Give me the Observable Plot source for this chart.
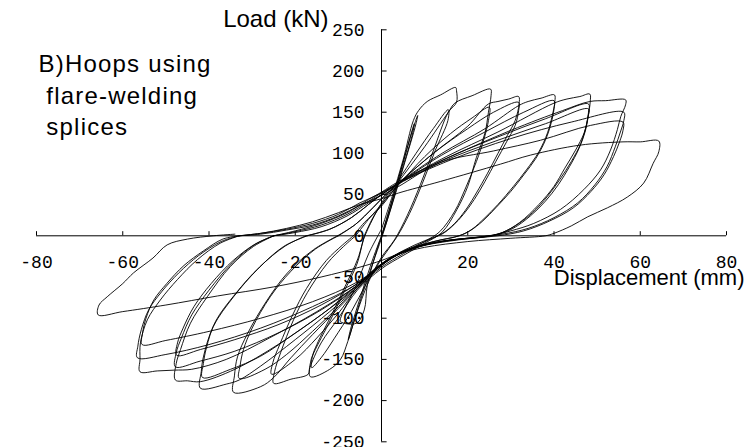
<!DOCTYPE html>
<html><head><meta charset="utf-8">
<script src="https://cdn.jsdelivr.net/npm/d3@7"></script>
<script src="https://cdn.jsdelivr.net/npm/@observablehq/plot@0.6"></script>
<style>body{margin:0;background:#fff}</style>
</head><body><div id="chart"></div>
<script>
// Axis ticks
const xTicks = [-80, -60, -40, -20, 0, 20, 40, 60, 80];
const xTickLabels = [-80, -60, -40, -20, 20, 40, 60, 80];
const yTicks = [-250, -200, -150, -100, -50, 0, 50, 100, 150, 200, 250];

// Hysteresis cycles: [displacement (mm), load (kN)]
const c01 = [[0,0],[2,35],[4.5,80],[7,125],[8.4,146],[8,136],[5,82],[2,30],[0,-3],[-2,-33],[-4.5,-72],[-6.5,-106],[-7.7,-126],[-7.2,-114],[-4.5,-68],[-2,-28],[0,0]];
const c02 = [[0,0],[3,52],[5.5,98],[7.6,136],[7.3,126],[4.2,70],[1,14],[-1,-16],[-3.3,-60],[-4,-90],[-5.8,-106],[-9.5,-104],[-9.2,-96],[-6,-62],[-3,-22],[0,8]];
const c03 = [[0,8],[2.5,48],[5,92],[7.4,140],[8.6,152],[10.6,163],[13.7,171],[17.2,180],[17.4,176],[17.4,162],[15.5,150],[12,103],[9,62],[6,25],[3,-5],[0,-26],[-3,-56],[-6,-98],[-7.8,-128],[-9.5,-150],[-12,-162],[-16.5,-171],[-16.4,-152],[-15.7,-142],[-11.8,-102],[-8.8,-69],[-5.6,-33],[-4.2,-5],[-3,10]];
const c04 = [[-3,10],[0,40],[3.7,66],[8,100],[12,130],[15.5,153],[15.4,140],[12.5,104],[9.5,64],[6.5,27],[3.5,-2],[0,-28],[-3.5,-58],[-7,-92],[-11,-125],[-14,-148],[-16.2,-160],[-16,-146],[-15,-132],[-11.5,-95],[-8.5,-62],[-5.5,-28],[-4,0]];
const c05 = [[-4,0],[-2,22],[0,38],[3.7,64],[10,108],[15.5,150],[17,161],[21,170],[25.3,178],[25.4,170],[24.8,150],[24,125],[22,95],[20,60],[17.5,32],[14,4],[10,-9],[5,-24],[0,-40],[-5.6,-66],[-10,-100],[-14,-130],[-16.6,-160],[-17,-168],[-21,-174],[-25,-179],[-24.8,-165],[-23.4,-142],[-20.4,-102],[-17.2,-69],[-12.5,-33],[-8.8,-13],[-6,0]];
const c06 = [[-6,0],[-3,20],[0,38],[4,62],[10,96],[16,124],[21,143],[25,156],[24.8,140],[23.8,118],[22,90],[19.5,58],[17,30],[13.5,5],[10,-7],[5,-22],[0,-38],[-5.6,-64],[-10,-94],[-15,-124],[-20,-150],[-25.5,-168],[-25.2,-154],[-23.6,-132],[-20.6,-96],[-17.4,-64],[-12.8,-30],[-9,-11],[-6.5,0]];
const c07 = [[-6.5,0],[-4,16],[0,36],[4,63],[12,100],[20,133],[24.8,160],[27,163],[29.5,166],[31.8,169],[31.9,160],[31,140],[29.2,122],[27,100],[24.6,76],[22,52],[20,35],[17.5,18],[15,6],[13,0],[8,-12],[3,-24],[-1,-40],[-5.6,-64],[-10,-88],[-16,-120],[-21,-148],[-25,-172],[-28,-183],[-34.3,-190],[-34.1,-170],[-33.4,-147],[-31,-118],[-26.5,-78],[-21.8,-45],[-15.8,-17],[-10.2,0]];
const c08 = [[-10.2,0],[-6,14],[-2,34],[1,50],[4,64],[12,100],[20,130],[26,150],[31.8,162],[31.8,152],[31,134],[29,114],[26.5,90],[24,66],[21.5,44],[19,26],[16.5,12],[14,2],[10,-6],[5,-18],[0,-34],[-5.6,-62],[-10,-86],[-16,-116],[-22,-144],[-27,-162],[-33,-173],[-32.8,-158],[-32,-138],[-30,-112],[-25.8,-74],[-21,-43],[-15.3,-16],[-10,0]];
const c09 = [[-10,0],[-6,14],[-2,34],[1,50],[4,64],[14,100],[24,130],[31.8,158],[34,163],[37,167],[40.1,171],[40.2,163],[39.6,146],[38.5,125],[36.5,102],[33.6,80],[30.6,60],[27,38],[24,22],[21,8],[18,0],[13,-6],[7,-15],[2,-28],[-2,-42],[-5.6,-62],[-12,-92],[-20,-126],[-28,-158],[-33,-175],[-36,-180],[-42,-185],[-41.8,-165],[-41.3,-147],[-39,-110],[-34.3,-74],[-28.8,-41],[-22.7,-13],[-17.2,0]];
const c10 = [[-17.2,0],[-12,8],[-7,22],[-3,38],[0,50],[4,64],[14,98],[24,126],[33,150],[40,164],[40,154],[39.3,136],[38,116],[35.8,94],[33,74],[30,54],[26.5,34],[23.5,18],[20.5,6],[18,0],[12,-7],[6,-17],[1,-32],[-5.6,-60],[-12,-88],[-20,-118],[-28,-146],[-35,-162],[-41.5,-172],[-41.3,-155],[-40.6,-136],[-38.5,-104],[-33.8,-70],[-28.3,-38],[-22.2,-12],[-17.5,0]];
const c11 = [[-17.5,0],[-12,8],[-7,22],[-3,38],[0,50],[4,64],[15,96],[27,126],[40,161],[43,166],[46,169],[48.3,172],[48.4,163],[47.9,145],[47,125],[45,104],[42.5,82],[40,60],[36.5,38],[32,16],[28,4],[24,-1],[18,-4],[12,-9],[6,-18],[1,-32],[-5.6,-62],[-14,-96],[-24,-132],[-34,-162],[-42,-177],[-45,-176],[-47.8,-175],[-47.6,-155],[-46.6,-138],[-44.3,-106],[-40.4,-74],[-35,-37],[-29.7,-13],[-25,0]];
const c12 = [[-25,0],[-20,5],[-14,13],[-8,26],[-3,42],[0,52],[4,64],[15,94],[27,120],[38,142],[48,160],[48,150],[47.4,132],[46.2,112],[44,90],[41.3,68],[38.5,48],[35,28],[31,12],[27,2],[22,-2],[16,-5],[10,-11],[4,-22],[0,-34],[-5.6,-60],[-14,-90],[-24,-118],[-34,-140],[-42,-152],[-47.8,-159],[-47.6,-142],[-46.4,-124],[-44,-96],[-40,-66],[-34.6,-33],[-29.5,-11],[-25,0]];
const c13 = [[-25,0],[-20,4],[-14,11],[-8,24],[-3,40],[0,50],[4,63],[15,92],[27,116],[38,136],[48,154],[47.9,144],[47.2,126],[45.8,106],[43.6,84],[41,62],[38,42],[34.5,24],[30.5,9],[26.5,1],[21,-3],[15,-6],[9,-12],[3,-24],[-5.6,-58],[-14,-84],[-24,-108],[-34,-126],[-42,-138],[-47.5,-145],[-47.3,-130],[-46,-112],[-43.5,-86],[-39.5,-58],[-34.4,-30],[-29.3,-10],[-25,0]];
const c14 = [[-25,0],[-20,6],[-14,15],[-8,28],[-3,44],[0,53],[4,66],[16,96],[30,128],[42,152],[48.3,163],[52,164],[56.6,165],[56.6,159],[55.5,145],[54.7,129],[53.1,104],[50.8,80],[46.9,56],[41.5,32],[35.3,15],[30,6],[26,1],[20,-3],[14,-7],[8,-14],[3,-25],[-1,-40],[-5.6,-60],[-15,-92],[-26,-124],[-36,-150],[-44,-162],[-48,-163],[-52,-164],[-56,-165],[-56,-150],[-55.9,-130],[-54.3,-102],[-51.3,-78],[-47.3,-53],[-42.7,-29],[-37.4,-9],[-33,0]];
const c15 = [[-33,0],[-28,3],[-22,8],[-16,15],[-10,26],[-5,40],[0,52],[4,64],[16,92],[30,118],[44,138],[56.2,150],[56.2,140],[55.4,126],[54.2,108],[52.3,84],[49.5,62],[45.5,40],[40,22],[34,9],[28,2],[22,-2],[16,-5],[10,-11],[4,-22],[0,-34],[-5.6,-58],[-16,-86],[-28,-112],[-40,-132],[-50,-144],[-56.6,-148],[-56.5,-134],[-55.7,-114],[-54,-90],[-51,-68],[-47,-45],[-42.4,-24],[-37.2,-7],[-33,0]];
const c16 = [[-33,0],[-28,2],[-22,7],[-16,13],[-10,24],[-5,37],[0,49],[4,60],[13.7,89],[26,103],[36.9,116],[48.5,134],[56,138],[56,128],[55.2,114],[53.8,96],[51.6,74],[48.6,54],[44.5,34],[39,18],[33,6],[27,0],[21,-3],[15,-7],[9,-13],[3,-25],[-5.6,-56],[-16,-80],[-28,-100],[-40,-116],[-50,-127],[-55.5,-132],[-55.4,-118],[-54.6,-100],[-52.8,-78],[-49.8,-58],[-45.8,-36],[-41.2,-18],[-36.8,-4],[-33,0]];
const c17 = [[-33,0],[-28,3],[-22,9],[-16,17],[-10,28],[-5,38],[0,45],[4,52],[13.7,66],[27.6,87],[34.6,98],[46,110],[56,114],[60,114],[64.3,115],[64.3,102],[63,88],[60.8,64],[57,47],[52.4,34],[47.8,23],[44,12],[40,3],[38,0],[30,-3],[20,-7],[10,-14],[4,-22],[0,-30],[-5,-38],[-14,-50],[-25,-62],[-38,-73],[-50,-84],[-60,-92],[-65.7,-96],[-65.5,-84],[-63.6,-74],[-60,-58],[-57.5,-45],[-53,-27],[-49.7,-11],[-45,-4],[-39,0],[-34,2]];

const cycles = [c01,c02,c03,c04,c05,c06,c07,c08,c09,c10,c11,c12,c13,c14,c15,c16,c17];
const rows = cycles.flatMap((c, k) => c.map(([d, p], i) => ({cycle: k, i, d, p})));

// Annotation texts
const yTitle = "Load (kN)";
const xTitle = "Displacement (mm)";
const noteLines = ["B)Hoops using", "\u00a0flare-welding", "\u00a0splices"];

const sans = "Liberation Sans, Arial, Helvetica, sans-serif";
const mono = "Liberation Mono, DejaVu Sans Mono, monospace";

const chart = Plot.plot({
  width: 750,
  height: 447,
  marginLeft: 36,
  marginRight: 24,
  marginTop: 29.3,
  marginBottom: 5.7,
  x: {domain: [-80, 80], axis: null},
  y: {domain: [-250, 250], axis: null},
  style: {background: "white", color: "black"},
  marks: [
    Plot.ruleY([0], {x1: -80, x2: 80, stroke: "black", strokeWidth: 1}),
    Plot.ruleX([0], {y1: -250, y2: 250, stroke: "black", strokeWidth: 1}),
    Plot.ruleX(xTicks, {x: d => d, y1: 0, y2: 5, stroke: "black", strokeWidth: 1}),
    Plot.ruleY(yTicks, {y: d => d, x1: 0, x2: 1.3, stroke: "black", strokeWidth: 1}),
    Plot.text(xTickLabels, {x: d => d, y: 0, text: d => String(d), dy: 26.4, fontFamily: mono, fontSize: 18, fill: "black"}),
    Plot.text(yTicks, {x: 0, y: d => d, text: d => String(d), textAnchor: "end", dx: -17, fontFamily: mono, fontSize: 18, fill: "black"}),
    Plot.line(rows, {x: "d", y: "p", z: "cycle", stroke: "#000", strokeWidth: 0.9, curve: "catmull-rom"}),
    Plot.text([yTitle], {frameAnchor: "top-left", dx: 292, dy: -2.6, textAnchor: "end", lineAnchor: "bottom", fontFamily: sans, fontSize: 24, fill: "black"}),
    Plot.text([noteLines[0]], {frameAnchor: "top-left", dx: 2, dy: 42.4, textAnchor: "start", lineAnchor: "bottom", fontFamily: sans, fontSize: 24, fill: "black"}),
    Plot.text([noteLines[1]], {frameAnchor: "top-left", dx: 2, dy: 73.7, textAnchor: "start", lineAnchor: "bottom", fontFamily: sans, fontSize: 24, fill: "black"}),
    Plot.text([noteLines[2]], {frameAnchor: "top-left", dx: 2, dy: 105.2, textAnchor: "start", lineAnchor: "bottom", fontFamily: sans, fontSize: 24, fill: "black"}),
    Plot.text([xTitle], {frameAnchor: "top-left", dx: 708, dy: 254.7, textAnchor: "end", lineAnchor: "bottom", fontFamily: sans, fontSize: 22, fill: "black"})
  ]
});
chart.querySelectorAll("text").forEach(t => {
  const s = t.textContent;
  if (s.startsWith("B)") || s.includes("flare") || s.includes("splices")) t.setAttribute("letter-spacing", "1.2");
});
document.getElementById("chart").appendChild(chart);
</script>
</body></html>
